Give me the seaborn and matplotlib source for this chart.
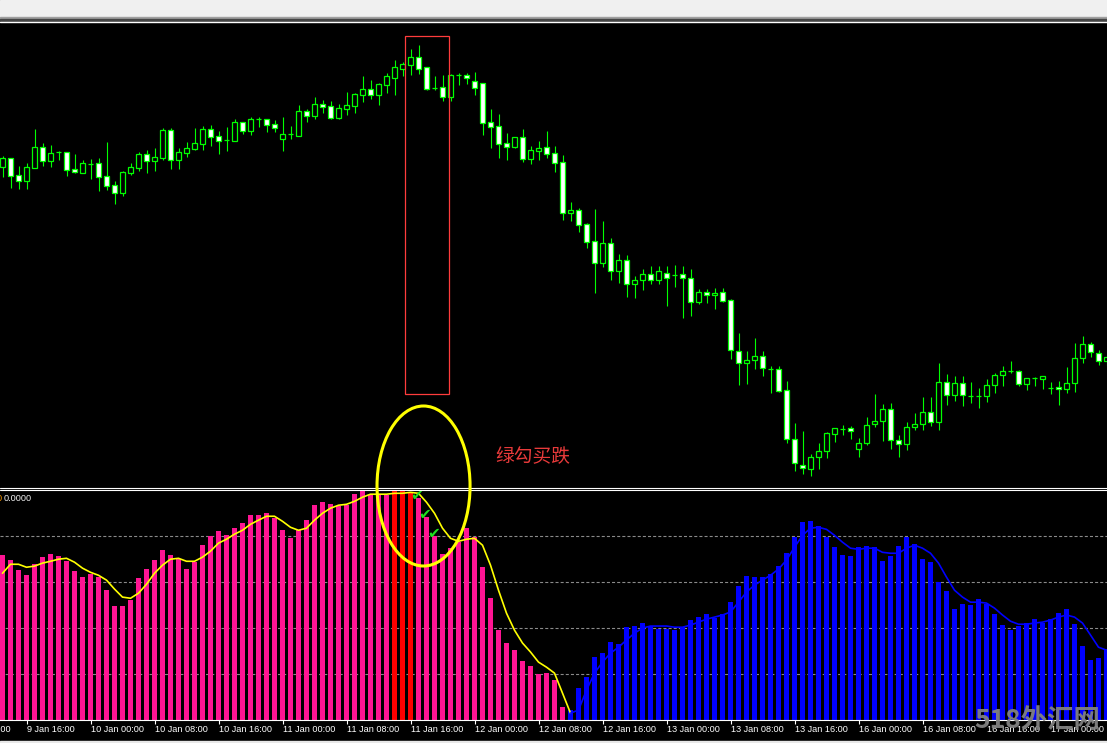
import numpy as np
import pandas as pd
import matplotlib
matplotlib.use('Agg')
import matplotlib.pyplot as plt
import matplotlib.transforms as mtransforms
from matplotlib.patches import Rectangle, Ellipse
from matplotlib.lines import Line2D
import seaborn as sns

# H1 candles, 9 Jan 13:00 .. 17 Jan 01:00 (weekend skipped), one row = 10 bars
opens = [118.33, 118.42, 118.25, 118.19, 118.32, 118.53, 118.39, 118.48, 118.48, 118.31,
         118.27, 118.36, 118.37, 118.24, 118.15, 118.07, 118.27, 118.32, 118.46, 118.39,
         118.42, 118.70, 118.40, 118.47, 118.51, 118.56, 118.71, 118.64, 118.60, 118.59,
         118.78, 118.69, 118.81, 118.81, 118.76, 118.61, 118.66, 118.64, 118.89, 118.84,
         118.96, 118.94, 118.82, 118.91, 118.94, 119.05, 119.11, 119.05, 119.15, 119.22,
         119.31, 119.35, 119.43, 119.33, 119.12, 119.13, 119.03, 119.25, 119.25, 119.19,
         119.17, 118.78, 118.74, 118.57, 118.53, 118.63, 118.41, 118.49, 118.53, 118.47,
         118.38, 117.87, 117.90, 117.76, 117.59, 117.37, 117.57, 117.29, 117.40, 117.16,
         117.20, 117.26, 117.20, 117.27, 117.25, 117.26, 117.22, 116.98, 117.08, 117.05,
         117.08, 117.00, 116.49, 116.37, 116.40, 116.44, 116.31, 116.31, 116.10, 115.61,
         115.35, 115.31, 115.43, 115.49, 115.66, 115.71, 115.72, 115.51, 115.57, 115.76,
         115.79, 115.91, 115.60, 115.56, 115.73, 115.76, 115.88, 115.78, 116.18, 116.05,
         116.17, 116.04, 116.04, 116.04, 116.15, 116.25, 116.29, 116.29, 116.16, 116.22,
         116.21, 116.12, 116.13, 116.11, 116.17, 116.42, 116.56, 116.47, 116.39]
highs = [118.44, 118.42, 118.34, 118.37, 118.71, 118.57, 118.55, 118.49, 118.48, 118.46,
         118.40, 118.41, 118.42, 118.58, 118.19, 118.29, 118.37, 118.48, 118.50, 118.52,
         118.72, 118.72, 118.52, 118.58, 118.72, 118.74, 118.75, 118.69, 118.73, 118.81,
         118.78, 118.83, 118.83, 118.81, 118.80, 118.83, 118.74, 118.95, 118.91, 119.03,
         119.00, 118.99, 118.96, 119.08, 119.07, 119.24, 119.20, 119.17, 119.27, 119.40,
         119.38, 119.51, 119.55, 119.33, 119.24, 119.25, 119.26, 119.27, 119.27, 119.28,
         119.17, 118.91, 118.86, 118.67, 118.63, 118.71, 118.54, 118.59, 118.69, 118.54,
         118.45, 117.98, 117.92, 117.77, 117.91, 117.79, 117.62, 117.46, 117.45, 117.24,
         117.31, 117.34, 117.34, 117.34, 117.35, 117.34, 117.31, 117.11, 117.11, 117.12,
         117.12, 117.01, 116.67, 116.49, 116.62, 116.49, 116.34, 116.34, 116.19, 115.77,
         115.69, 115.46, 115.57, 115.68, 115.72, 115.75, 115.74, 115.62, 115.83, 116.06,
         115.96, 115.97, 115.65, 115.78, 115.87, 116.03, 116.03, 116.37, 116.26, 116.24,
         116.24, 116.18, 116.12, 116.21, 116.27, 116.34, 116.39, 116.30, 116.22, 116.23,
         116.24, 116.18, 116.19, 116.33, 116.57, 116.64, 116.58, 116.50, 116.45]
lows = [118.23, 118.12, 118.11, 118.11, 118.32, 118.34, 118.33, 118.40, 118.24, 118.27,
        118.27, 118.21, 118.09, 118.10, 117.96, 118.04, 118.25, 118.29, 118.27, 118.29,
        118.40, 118.31, 118.31, 118.43, 118.50, 118.50, 118.54, 118.46, 118.49, 118.59,
        118.66, 118.65, 118.73, 118.68, 118.68, 118.49, 118.61, 118.64, 118.78, 118.81,
        118.87, 118.81, 118.81, 118.85, 118.87, 118.98, 119.01, 118.95, 119.07, 119.05,
        119.24, 119.25, 119.26, 119.10, 119.10, 118.99, 118.99, 119.15, 119.16, 119.05,
        118.65, 118.52, 118.42, 118.40, 118.52, 118.38, 118.36, 118.40, 118.42, 118.28,
        117.80, 117.79, 117.68, 117.52, 117.07, 117.33, 117.20, 117.17, 117.03, 117.02,
        117.10, 117.16, 117.16, 116.94, 117.13, 116.82, 116.84, 116.96, 116.97, 116.91,
        116.98, 116.41, 116.15, 116.16, 116.31, 116.24, 116.07, 116.08, 115.57, 115.29,
        115.26, 115.24, 115.31, 115.42, 115.58, 115.65, 115.61, 115.43, 115.55, 115.73,
        115.59, 115.51, 115.43, 115.50, 115.70, 115.70, 115.74, 115.70, 115.95, 115.99,
        115.94, 115.97, 115.92, 115.98, 116.07, 116.14, 116.27, 116.14, 116.10, 116.14,
        116.11, 116.06, 115.95, 116.07, 116.08, 116.37, 116.43, 116.35, 116.34]
closes = [118.42, 118.24, 118.19, 118.33, 118.53, 118.39, 118.47, 118.48, 118.30, 118.28,
          118.37, 118.36, 118.23, 118.14, 118.07, 118.28, 118.33, 118.46, 118.39, 118.43,
          118.70, 118.40, 118.48, 118.52, 118.57, 118.71, 118.63, 118.59, 118.60, 118.78,
          118.69, 118.81, 118.81, 118.75, 118.72, 118.66, 118.66, 118.89, 118.84, 118.96,
          118.93, 118.82, 118.92, 118.95, 119.06, 119.11, 119.05, 119.16, 119.24, 119.33,
          119.36, 119.43, 119.31, 119.11, 119.12, 119.03, 119.25, 119.25, 119.22, 119.12,
          118.77, 118.73, 118.56, 118.53, 118.63, 118.41, 118.50, 118.52, 118.46, 118.37,
          117.87, 117.90, 117.75, 117.58, 117.37, 117.57, 117.29, 117.40, 117.16, 117.20,
          117.26, 117.20, 117.29, 117.22, 117.25, 117.22, 116.98, 117.08, 117.05, 117.07,
          116.99, 116.50, 116.37, 116.40, 116.44, 116.32, 116.31, 116.09, 115.61, 115.37,
          115.32, 115.43, 115.49, 115.67, 115.72, 115.71, 115.69, 115.57, 115.75, 115.79,
          115.91, 115.60, 115.56, 115.73, 115.76, 115.88, 115.78, 116.18, 116.05, 116.17,
          116.05, 116.04, 116.04, 116.15, 116.25, 116.29, 116.29, 116.16, 116.22, 116.22,
          116.24, 116.12, 116.11, 116.17, 116.42, 116.56, 116.48, 116.39, 116.43]

# oscillator histogram (0..100) and its signal line
hist_vals = [71.7, 69.6, 65.2, 63.0, 67.8, 70.9, 72.2, 71.3, 69.1, 64.8,
             62.2, 63.5, 62.2, 56.5, 49.6, 49.6, 52.2, 61.7, 65.7, 69.6,
             73.9, 71.7, 70.0, 65.7, 68.7, 76.1, 80.0, 82.2, 80.4, 83.5,
             85.7, 89.1, 89.1, 90.0, 87.8, 82.6, 79.1, 82.6, 87.0, 93.5,
             94.8, 93.9, 93.0, 93.5, 98.3, 99.6, 97.8, 97.8, 97.8, 100.0,
             100.0, 99.1, 96.5, 88.3, 80.0, 72.2, 74.8, 77.4, 83.5, 79.6,
             66.5, 53.0, 39.1, 33.5, 30.4, 25.7, 23.5, 20.0, 20.4, 17.4,
             5.7, 4.3, 13.9, 18.7, 27.4, 29.1, 33.9, 33.0, 40.4, 40.9,
             42.2, 40.9, 39.6, 39.6, 39.1, 40.4, 43.5, 44.8, 46.1, 44.3,
             46.1, 51.3, 58.3, 62.6, 62.2, 62.2, 63.5, 67.0, 72.6, 79.6,
             86.1, 86.5, 84.3, 79.6, 75.2, 71.7, 71.3, 75.2, 75.7, 75.2,
             69.1, 71.3, 75.7, 79.6, 76.5, 70.0, 68.7, 60.0, 56.1, 48.3,
             50.4, 50.0, 52.6, 50.4, 46.1, 41.3, 39.1, 40.9, 42.2, 43.9,
             42.2, 43.9, 46.5, 48.3, 41.7, 32.2, 26.1, 27.0, 30.9]
red_bars = [49, 50, 51]
blue_from = 71

signal_up = [63.9, 67.8, 67.8, 66.5, 67.0, 68.3, 69.1, 70.0, 70.4, 68.7,
             66.1, 64.3, 63.0, 60.9, 57.0, 53.5, 53.0, 55.2, 59.1, 63.9,
             67.4, 70.0, 70.4, 69.1, 69.1, 70.9, 73.5, 77.0, 78.7, 80.9,
             82.6, 85.2, 87.0, 88.7, 88.7, 86.5, 83.9, 82.6, 83.5, 87.0,
             90.0, 92.2, 93.5, 93.9, 95.2, 97.0, 98.3, 98.3, 98.3, 98.7,
             98.7, 99.1, 98.7, 94.8, 90.0, 83.5, 79.1, 77.8, 78.7, 79.1,
             76.1, 67.4, 56.5, 46.5, 39.1, 33.5, 29.6, 25.2, 23.0, 20.4,
             11.7, 3.0]
signal_dn = [3.0, 4.3, 13.0, 20.4, 25.2, 29.1, 31.7, 34.8, 37.8, 40.0,
             40.9, 40.9, 40.9, 40.4, 40.4, 41.3, 42.6, 43.9, 44.8, 45.7,
             47.0, 51.3, 55.7, 58.7, 60.9, 63.0, 65.7, 69.6, 75.2, 80.4,
             83.5, 83.9, 83.0, 80.4, 77.4, 74.8, 74.3, 74.8, 74.8, 73.0,
             72.6, 72.6, 74.8, 76.1, 74.8, 72.6, 68.3, 62.2, 56.5, 53.5,
             51.3, 51.3, 50.9, 48.7, 45.7, 43.0, 41.7, 41.7, 42.2, 42.6,
             43.5, 44.8, 45.7, 44.8, 42.2, 37.0, 31.7, 30.4]

tick_bars = [-5, 3, 11, 19, 27, 35, 43, 51, 59, 67, 75, 83, 91, 99, 107, 115, 123, 131]
tick_labels = ['9 Jan 08:00', '9 Jan 16:00', '10 Jan 00:00', '10 Jan 08:00', '10 Jan 16:00',
               '11 Jan 00:00', '11 Jan 08:00', '11 Jan 16:00', '12 Jan 00:00', '12 Jan 08:00',
               '12 Jan 16:00', '13 Jan 00:00', '13 Jan 08:00', '13 Jan 16:00', '16 Jan 00:00',
               '16 Jan 08:00', '16 Jan 16:00', '17 Jan 00:00']

sns.set_theme(style='dark')
plt.rcParams['font.family'] = ['Liberation Sans', 'Noto Sans CJK SC', 'DejaVu Sans']
plt.rcParams['lines.scale_dashes'] = False

LIME = '#00ff00'
W, H = 1107, 743


def fy(y):
    return 1 - y / H


df = pd.DataFrame({'open': opens, 'high': highs, 'low': lows, 'close': closes})
df['bar'] = np.arange(len(df))
df['bear'] = df['close'] < df['open']

fig = plt.figure(figsize=(W / 100, H / 100), dpi=100, facecolor='black')
ax_main = fig.add_axes([0, fy(487), 1, (487 - 23) / H])
ax_ind = fig.add_axes([0, fy(720), 1, (720 - 490.3) / H])
xlim = (-2.5 / 8, (W - 2.5) / 8)

# ---- price panel
ax_main.set_facecolor('black')
ax_main.vlines(df['bar'], df['low'], df['high'], color=LIME, lw=0.8, zorder=1)
body_lo = df[['open', 'close']].min(axis=1)
body_h = (df['close'] - df['open']).abs()
fills = np.where(df['bear'], 'white', 'black')
ax_main.bar(df['bar'], body_h, bottom=body_lo, width=0.55, color=fills,
            edgecolor=LIME, linewidth=0.9, zorder=2)
ax_main.set_xlim(*xlim)
ax_main.set_ylim(120 - 4.87, 120 - 0.23)
ax_main.add_patch(Rectangle((50.31, 116.06), 5.47, 3.58, fill=False,
                            edgecolor='#ff3c3c', lw=0.9, zorder=4))
for s in ax_main.spines.values():
    s.set_visible(False)
ax_main.set_xticks([])
ax_main.set_yticks([])

# ---- oscillator panel
ind = pd.DataFrame({'bar': np.arange(len(hist_vals)), 'value': hist_vals})
ind['group'] = np.where(ind['bar'] >= blue_from, 'blue',
                        np.where(ind['bar'].isin(red_bars), 'red', 'pink'))
ax_ind.set_facecolor('black')
for lvl in [20, 40, 60, 80]:
    ax_ind.axhline(lvl, color='#8a8a8a', lw=0.8, dashes=(2.2, 1.5), zorder=0)
sns.barplot(data=ind, x='bar', y='value', hue='group',
            palette={'pink': '#ff1493', 'red': '#ff0000', 'blue': '#0000ff'},
            dodge=False, native_scale=True, width=0.625, saturation=1,
            legend=False, errorbar=None, orient='x', linewidth=0, ax=ax_ind, zorder=1)
sns.lineplot(x=np.arange(len(signal_up)), y=signal_up, color='#ffff00', lw=1.2, ax=ax_ind, zorder=3)
sns.lineplot(x=np.arange(blue_from, blue_from + len(signal_dn)), y=signal_dn,
             color='#0000ff', lw=1.2, ax=ax_ind, zorder=3)
ax_ind.set_xlim(*xlim)
ax_ind.set_ylim(0, 100)
ax_ind.set_xlabel('')
ax_ind.set_ylabel('')
ax_ind.set_yticks([])
for name, s in ax_ind.spines.items():
    s.set_visible(name == 'bottom')
ax_ind.spines['bottom'].set_color('white')
ax_ind.spines['bottom'].set_linewidth(0.8)
ax_ind.set_xticks([b for b in tick_bars if b >= 0])
ax_ind.tick_params(axis='x', bottom=True, colors='white', length=3, width=0.8,
                   direction='out', labelbottom=False)
trans = mtransforms.blended_transform_factory(ax_ind.transData, ax_ind.transAxes)
for b, lab in zip(tick_bars, tick_labels):
    ax_ind.text(b + 0.05, -9.5 / 229.7, lab, transform=trans, ha='left', va='center',
                color='white', fontsize=6.6, clip_on=False)

ax_ind.text(4 / W, (720 - 498.5) / 229.7, '0.0000', transform=ax_ind.transAxes,
            ha='left', va='center', color='#f0f0f0', fontsize=6.6)
ax_ind.text(2 / W, (720 - 498.5) / 229.7, '0', transform=ax_ind.transAxes,
            ha='right', va='center', color='#ff9a00', fontsize=6.6)

for cx, cy in [(51.75, 97.7), (52.8, 89.5), (53.9, 81.2)]:
    ax_ind.text(cx, cy, '\u2714', ha='center', va='center', color='#1fe01f',
                fontsize=11, family=['DejaVu Sans'], zorder=6)

# ---- window chrome and annotations
fig.add_artist(Rectangle((0, fy(17.4)), 1, 17.4 / H, transform=fig.transFigure,
                         color='#f0f0f0', zorder=0))
fig.add_artist(Rectangle((0, fy(18.8)), 1, 1.4 / H, transform=fig.transFigure,
                         color='#a0a0a0', zorder=0))
fig.add_artist(Rectangle((0, fy(20.7)), 1, 1.9 / H, transform=fig.transFigure,
                         color='#454545', zorder=0))
fig.add_artist(Line2D([0, 1], [fy(22)] * 2, color='white', lw=1, transform=fig.transFigure))
fig.add_artist(Line2D([0, 1], [fy(487.8)] * 2, color='white', lw=0.8, transform=fig.transFigure))
fig.add_artist(Line2D([0, 1], [fy(489.8)] * 2, color='white', lw=0.8, transform=fig.transFigure))
fig.add_artist(Rectangle((0, 0), 1, 2 / H, transform=fig.transFigure, color='#e8e8e8', zorder=0))

fig.add_artist(Ellipse((52.63, 115.14), 11.63, 1.60, transform=ax_main.transData,
                       fill=False, edgecolor='#ffff00', lw=2.2, zorder=5))

fig.text(495 / W, fy(457), '绿勾买跌', color='#e83a3a', fontsize=13.5,
         family=['Noto Sans CJK SC'], ha='left', va='center')
fig.text(1037 / W, fy(720), '518外汇网', color='#808080', alpha=0.95, fontsize=19,
         fontweight='bold', family=['Noto Sans CJK SC'], ha='center', va='center', zorder=6)

fig.savefig('out.png', dpi=100, facecolor='black')
